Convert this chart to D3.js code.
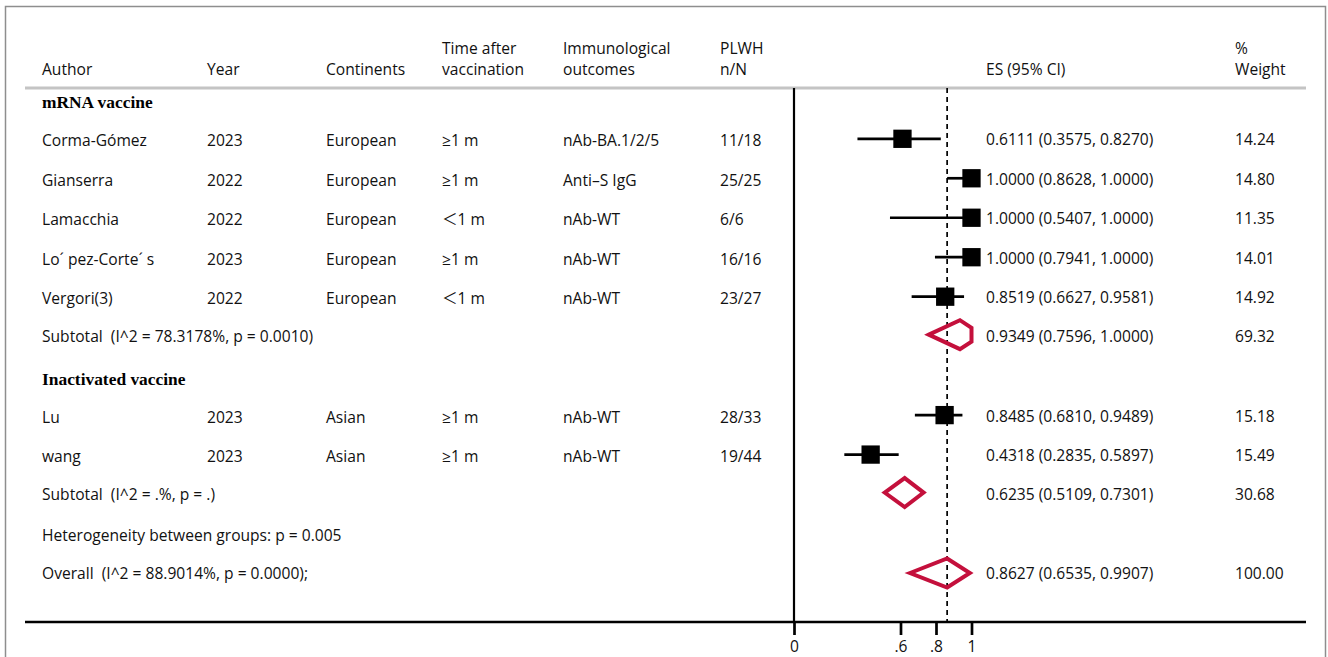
<!DOCTYPE html>
<html>
<head>
<meta charset="utf-8">
<script src="https://cdn.jsdelivr.net/npm/d3@7"></script>
<style>
  html, body { margin: 0; padding: 0; background: #fff; }
  svg text { white-space: pre; }
</style>
</head>
<body>
<svg id="chart" width="1328" height="657"></svg>
<script>
// ---- data ----
const authors = ["Corma-Gómez", "Gianserra", "Lamacchia", "Lo\u00B4 pez-Corte\u00B4 s", "Vergori(3)", "Lu", "wang"];
const years = ["2023", "2022", "2022", "2023", "2022", "2023", "2023"];
const continents = ["European", "European", "European", "European", "European", "Asian", "Asian"];
const timesAfter = ["\u22651 m", "\u22651 m", "\uFF1C1 m", "\u22651 m", "\uFF1C1 m", "\u22651 m", "\u22651 m"];
const outcomes = ["nAb-BA.1/2/5", "Anti\u2013S IgG", "nAb-WT", "nAb-WT", "nAb-WT", "nAb-WT", "nAb-WT"];
const plwh = ["11/18", "25/25", "6/6", "16/16", "23/27", "28/33", "19/44"];
const es = [0.6111, 1.0000, 1.0000, 1.0000, 0.8519, 0.8485, 0.4318];
const lower = [0.3575, 0.8628, 0.5407, 0.7941, 0.6627, 0.6810, 0.2835];
const upper = [0.8270, 1.0000, 1.0000, 1.0000, 0.9581, 0.9489, 0.5897];
const weights = ["14.24", "14.80", "11.35", "14.01", "14.92", "15.18", "15.49"];
const studyGroup = [0, 0, 0, 0, 0, 1, 1];

const groupNames = ["mRNA vaccine", "Inactivated vaccine"];
const subtotalLabels = ["Subtotal  (I^2 = 78.3178%, p = 0.0010)", "Subtotal  (I^2 = .%, p = .)"];
const subES = [0.9349, 0.6235];
const subLower = [0.7596, 0.5109];
const subUpper = [1.0000, 0.7301];
const subUpperDrawn = [1.06, 0.7301];   // diamond before clipping at 1
const subWeights = ["69.32", "30.68"];

const hetLabel = "Heterogeneity between groups: p = 0.005";
const overallLabel = "Overall  (I^2 = 88.9014%, p = 0.0000);";
const overallES = 0.8627, overallLower = 0.6535, overallUpper = 0.9907, overallWeight = "100.00";

const tickValues = [0, 0.6, 0.8, 1];
const tickLabels = ["0", ".6", ".8", "1"];

const headerCols = [
  ["", "Author"], ["", "Year"], ["", "Continents"], ["Time after", "vaccination"],
  ["Immunological", "outcomes"], ["PLWH", "n/N"], ["", "ES (95% CI)"], ["%", "Weight"]
];

// ---- layout ----
const svg = d3.select("#chart");
const font = "'Open Sans', 'DejaVu Sans', 'Noto Sans CJK SC', sans-serif";
const fs = 15.6;
const ink = "#000";
const red = "#c4103c";

const colX = [42, 207, 326, 442, 563, 720, 986, 1235];
const x = d3.scaleLinear().domain([0, 1]).range([794, 971.5]);
const y = d3.scaleLinear().domain([1, 12]).range([138.8, 573]);
const plotTop = 88, axisY = 622;
const boxSize = 18.3, dh = 14.5;

// build row list
const rows = [];
groupNames.forEach((g, gi) => {
  rows.push({type: "group", label: g});
  authors.forEach((a, i) => { if (studyGroup[i] === gi) rows.push({type: "study", i}); });
  rows.push({type: "sub", gi});
});
rows.push({type: "het"});
rows.push({type: "overall"});
rows.forEach((r, k) => r.y = y(k));

// frame
svg.append("rect").attr("x", 5.5).attr("y", 6.5).attr("width", 1320).attr("height", 720)
  .attr("fill", "none").attr("stroke", "#8e8e8e").attr("stroke-width", 1.5);

// header
const hdr = svg.append("g").attr("font-family", font).attr("font-size", fs).attr("fill", "#111");
headerCols.forEach((c, j) => {
  if (c[0]) hdr.append("text").attr("x", colX[j]).attr("y", 49).attr("dy", "0.35em").text(c[0]);
  hdr.append("text").attr("x", colX[j]).attr("y", 70).attr("dy", "0.35em").text(c[1]);
});
svg.append("line").attr("x1", 25).attr("x2", 1306).attr("y1", plotTop).attr("y2", plotTop)
  .attr("stroke", "#c4c4c4").attr("stroke-width", 3);

// null line and overall dashed line
svg.append("line").attr("x1", x(0)).attr("x2", x(0)).attr("y1", plotTop).attr("y2", axisY)
  .attr("stroke", ink).attr("stroke-width", 2.2);
svg.append("line").attr("x1", x(overallES)).attr("x2", x(overallES)).attr("y1", plotTop).attr("y2", axisY)
  .attr("stroke", ink).attr("stroke-width", 1.7).attr("stroke-dasharray", "5,4");

// text layer
const tx = svg.append("g").attr("font-family", font).attr("font-size", fs).attr("fill", "#111");
function txt(xp, yp, s) { tx.append("text").attr("x", xp).attr("y", yp).attr("dy", "0.35em").text(s); }

const diamondLine = d3.line();
function diamond(lo, mid, hiDrawn, yc) {
  const pts = [[x(lo), yc], [x(mid), yc - dh]];
  if (hiDrawn > 1) {
    const f = (hiDrawn - 1) / (hiDrawn - mid);
    pts.push([x(1), yc - dh * f], [x(1), yc + dh * f]);
  } else {
    pts.push([x(hiDrawn), yc]);
  }
  pts.push([x(mid), yc + dh]);
  svg.append("path").attr("d", diamondLine(pts) + "Z")
    .attr("fill", "none").attr("stroke", red).attr("stroke-width", 4).attr("stroke-linejoin", "miter");
}
const fmt = d3.format(".4f");

rows.forEach(r => {
  if (r.type === "group") {
    svg.append("text").attr("x", colX[0]).attr("y", r.y + 3).attr("dy", "0.35em")
      .attr("font-family", "'Liberation Serif', 'Times New Roman', serif").attr("font-weight", "bold")
      .attr("font-size", 17.4).attr("fill", ink).text(r.label);
  } else if (r.type === "study") {
    const i = r.i;
    const cells = [authors[i], years[i], continents[i], timesAfter[i], outcomes[i], plwh[i]];
    cells.forEach((c, j) => txt(colX[j], r.y + 2, c));
    txt(colX[6], r.y + 1, `${fmt(es[i])} (${fmt(lower[i])}, ${fmt(upper[i])})`);
    txt(colX[7], r.y + 1, weights[i]);
    svg.append("line").attr("x1", x(lower[i])).attr("x2", x(upper[i])).attr("y1", r.y).attr("y2", r.y)
      .attr("stroke", ink).attr("stroke-width", 2.7);
    svg.append("rect").attr("x", x(es[i]) - boxSize / 2).attr("y", r.y - boxSize / 2)
      .attr("width", boxSize).attr("height", boxSize).attr("fill", "#000");
  } else if (r.type === "sub") {
    const g = r.gi;
    txt(colX[0], r.y, subtotalLabels[g]);
    txt(colX[6], r.y, `${fmt(subES[g])} (${fmt(subLower[g])}, ${fmt(subUpper[g])})`);
    txt(colX[7], r.y, subWeights[g]);
    diamond(subLower[g], subES[g], subUpperDrawn[g], r.y - 1.5);
  } else if (r.type === "het") {
    txt(colX[0], r.y + 2, hetLabel);
  } else if (r.type === "overall") {
    txt(colX[0], r.y + 1, overallLabel);
    txt(colX[6], r.y + 1, `${fmt(overallES)} (${fmt(overallLower)}, ${fmt(overallUpper)})`);
    txt(colX[7], r.y + 1, overallWeight);
    diamond(overallLower, overallES, overallUpper, r.y);
  }
});

// x axis
svg.append("line").attr("x1", 25).attr("x2", 1306).attr("y1", axisY).attr("y2", axisY)
  .attr("stroke", ink).attr("stroke-width", 2.7);
const axis = d3.axisBottom(x).tickValues(tickValues)
  .tickFormat((d, i) => tickLabels[i]).tickSize(13).tickPadding(6);
const ag = svg.append("g").attr("transform", `translate(0,${axisY})`).call(axis);
ag.select(".domain").remove();
ag.selectAll(".tick line").attr("stroke", ink).attr("stroke-width", 2.7);
ag.selectAll(".tick text").attr("font-family", font).attr("font-size", fs).attr("fill", "#111");
</script>
</body>
</html>
